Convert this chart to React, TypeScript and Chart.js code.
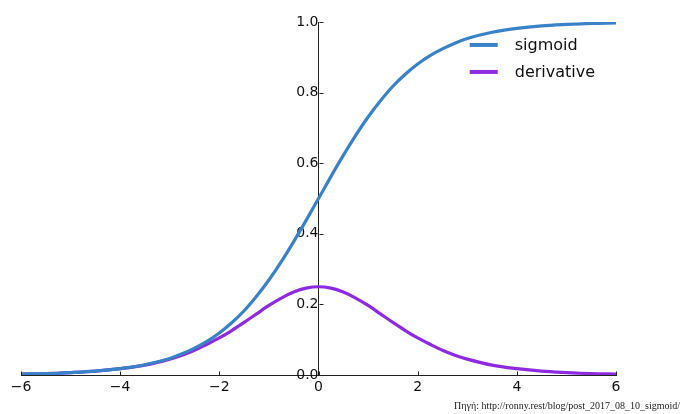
import React, { useEffect, useRef } from "react";
import { Chart, registerables } from "chart.js";

Chart.register(...registerables);

// Sample positions along the x axis
const xValues = [
  -6, -5.5, -5, -4.5, -4, -3.5, -3, -2.75, -2.5, -2.25, -2, -1.75, -1.5, -1.25, -1, -0.75, -0.5, -0.25, 0,
  0.25, 0.5, 0.75, 1, 1.25, 1.5, 1.75, 2, 2.25, 2.5, 2.75, 3, 3.5, 4, 4.5, 5, 5.5, 6,
];

// Logistic curve
const sigmoidValues = [
  0.0025, 0.004, 0.007, 0.011, 0.018, 0.029, 0.047, 0.06, 0.076, 0.095, 0.119, 0.148, 0.182, 0.223, 0.269, 0.321, 0.378, 0.438, 0.5,
  0.562, 0.622, 0.679, 0.731, 0.777, 0.818, 0.852, 0.881, 0.905, 0.924, 0.94, 0.953, 0.971, 0.982, 0.989, 0.993, 0.996, 0.9975,
];

// Its slope
const derivativeValues = [
  0.0025, 0.004, 0.007, 0.011, 0.018, 0.028, 0.045, 0.056, 0.07, 0.087, 0.105, 0.126, 0.149, 0.173, 0.197, 0.218, 0.235, 0.246, 0.25,
  0.246, 0.235, 0.218, 0.197, 0.173, 0.149, 0.126, 0.105, 0.087, 0.07, 0.056, 0.045, 0.028, 0.018, 0.011, 0.007, 0.004, 0.0025,
];

const xTickValues = [-6, -4, -2, 0, 2, 4, 6];
const yTickValues = [0, 0.2, 0.4, 0.6, 0.8, 1.0];

const seriesLabels = ["sigmoid", "derivative"];
const seriesColors = ["#3a82c8", "#8e2be0"];

const FONT = "'DejaVu Sans', sans-serif";

// Inward tick marks and a legend drawn inside the plot area
const decorations = {
  id: "decorations",
  afterDraw(chart: any) {
    const ctx = chart.ctx;
    const xs = chart.scales.x;
    const ys = chart.scales.y;
    const x0 = Math.round(xs.getPixelForValue(0)) + 0.5;
    const yb = Math.round(ys.getPixelForValue(0)) + 0.5;
    ctx.save();
    ctx.strokeStyle = "#222";
    ctx.lineWidth = 1;
    ctx.beginPath();
    for (const v of yTickValues) {
      const py = Math.round(ys.getPixelForValue(v)) + 0.5;
      ctx.moveTo(x0, py);
      ctx.lineTo(x0 + 4, py);
    }
    for (const v of xTickValues) {
      const px = Math.round(xs.getPixelForValue(v)) + 0.5;
      ctx.moveTo(px, yb);
      ctx.lineTo(px, yb - 4);
    }
    ctx.stroke();

    // legend
    const lx = xs.getPixelForValue(3.05);
    const ly0 = ys.getPixelForValue(0.935);
    const gap = 27;
    ctx.font = `16px ${FONT}`;
    ctx.textBaseline = "middle";
    ctx.textAlign = "left";
    chart.data.datasets.forEach((ds: any, i: number) => {
      const y = ly0 + i * gap;
      ctx.strokeStyle = ds.borderColor;
      ctx.lineWidth = 4;
      ctx.beginPath();
      ctx.moveTo(lx, y);
      ctx.lineTo(lx + 28, y);
      ctx.stroke();
      ctx.fillStyle = "#111";
      ctx.fillText(ds.label, lx + 45, y + 1);
    });
    ctx.restore();
  },
};

export default function App() {
  const canvasRef = useRef<HTMLCanvasElement | null>(null);

  useEffect(() => {
    const canvas = canvasRef.current;
    if (!canvas) return;
    const chart = new Chart(canvas, {
      type: "line",
      data: {
        datasets: [
          {
            label: seriesLabels[0],
            data: xValues.map((x, i) => ({ x, y: sigmoidValues[i] })),
            borderColor: seriesColors[0],
            borderWidth: 3.2,
            pointRadius: 0,
            cubicInterpolationMode: "monotone",
            fill: false,
          },
          {
            label: seriesLabels[1],
            data: xValues.map((x, i) => ({ x, y: derivativeValues[i] })),
            borderColor: seriesColors[1],
            borderWidth: 3.2,
            pointRadius: 0,
            cubicInterpolationMode: "monotone",
            fill: false,
          },
        ],
      },
      options: {
        animation: false,
        responsive: false,
        maintainAspectRatio: false,
        layout: { padding: { left: 21, right: 68, top: 22, bottom: 39 } },
        plugins: { legend: { display: false }, tooltip: { enabled: false } },
        scales: {
          x: {
            type: "linear",
            min: -6,
            max: 6,
            position: { y: 0 },
            afterBuildTicks: (scale: any) => {
              scale.ticks = xTickValues.map((value) => ({ value }));
            },
            grid: { display: false, drawTicks: false },
            border: { display: true, color: "#222", width: 1 },
            ticks: {
              padding: 4,
              color: "#111",
              font: { family: FONT, size: 14 },
              callback: (v: any) => (v < 0 ? "\u2212" + Math.abs(v) : String(v)),
            },
          },
          y: {
            type: "linear",
            min: 0,
            max: 1,
            position: { x: 0 },
            afterBuildTicks: (scale: any) => {
              scale.ticks = yTickValues.map((value) => ({ value }));
            },
            grid: { display: false, drawTicks: false },
            border: { display: true, color: "#222", width: 1 },
            ticks: {
              padding: 0,
              color: "#111",
              font: { family: FONT, size: 14 },
              callback: (v: any) => Number(v).toFixed(1),
            },
          },
        },
      },
      plugins: [decorations],
    } as any);
    return () => chart.destroy();
  }, []);

  return (
    <div style={{ position: "fixed", left: 0, top: 0, width: 684, height: 414, background: "#fff" }}>
      <canvas ref={canvasRef} width={684} height={414} style={{ display: "block" }} />
      <div
        style={{
          position: "absolute",
          right: 4,
          top: 400,
          fontFamily: "'Liberation Serif', serif",
          fontSize: 10,
          color: "#222",
          whiteSpace: "nowrap",
        }}
      >
        Πηγή: http://ronny.rest/blog/post_2017_08_10_sigmoid/
      </div>
    </div>
  );
}
